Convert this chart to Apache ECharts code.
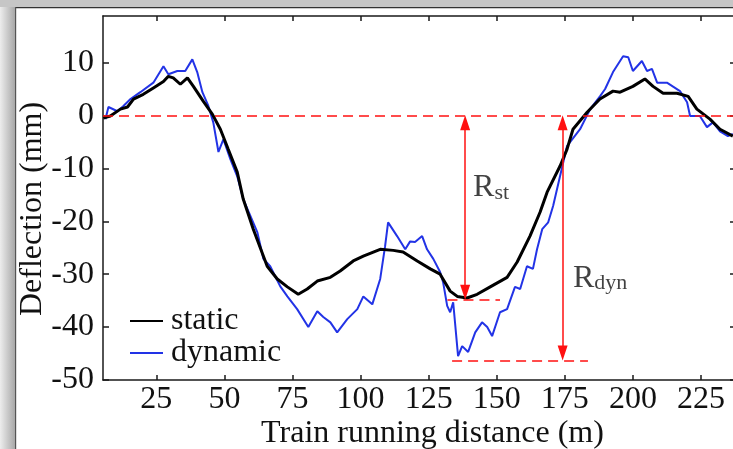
<!DOCTYPE html>
<html>
<head>
<meta charset="utf-8">
<script src="https://cdn.jsdelivr.net/npm/echarts@6/dist/echarts.min.js"></script>
<style>
html, body { margin: 0; padding: 0; background: #fff; }
#chart { width: 733px; height: 449px; }
</style>
</head>
<body>
<div id="chart"></div>
<script>
// axis ticks
var xTicks = [25, 50, 75, 100, 125, 150, 175, 200, 225];
var yTicks = [-50, -40, -30, -20, -10, 0, 10];

// static deflection [distance m, deflection mm]
var staticPts = [
    [5.5, -0.5], [8.1, -0.1], [11.8, 1.2], [14.4, 1.6], [16.6, 3.1], [20.2, 4.0], [23.9, 5.2],
    [27.6, 6.4], [29.4, 7.4], [31.2, 7.1], [33.8, 5.9], [36.4, 7.1], [38.6, 5.5], [42.2, 2.7],
    [45.6, 0.2], [48.5, -2.6], [51.4, -6.4], [54.7, -10.7], [56.9, -15.8], [60.6, -21.5],
    [65.7, -28.5], [69.4, -30.9], [73.1, -32.4], [77.1, -33.8], [80.4, -32.8], [84.1, -31.3],
    [88.9, -30.6], [92.5, -29.4], [97.3, -27.5], [101.0, -26.6], [107.2, -25.3], [112.0, -25.5],
    [115.6, -25.8], [120.8, -27.5], [125.6, -29.0], [129.2, -30.0], [132.9, -33.2], [135.5, -34.2],
    [139.1, -34.5], [142.8, -33.8], [147.6, -32.4], [153.8, -30.6], [157.5, -27.7], [162.2, -22.8],
    [165.9, -18.3], [168.5, -14.5], [173.3, -9.5], [175.8, -6.4], [178.0, -2.6], [183.2, 0.6],
    [187.9, 3.1], [192.7, 4.6], [195.3, 4.4], [200.0, 5.5], [204.4, 6.9], [207.4, 5.5],
    [211.1, 4.2], [216.2, 4.2], [220.3, 3.6], [223.5, 1.2], [228.3, -0.7], [232.0, -2.6], [236.7, -3.9]
];

// dynamic deflection
var dynamicPts = [
    [6.3, -0.7], [7.4, 1.6], [10.7, 0.8], [12.9, 1.8], [15.5, 3.1], [19.1, 4.4], [23.9, 6.2],
    [27.6, 9.3], [29.4, 7.8], [32.7, 8.4], [35.6, 8.4], [38.2, 10.6], [40.0, 8.2], [41.9, 4.4],
    [44.1, 1.8], [45.9, -1.3], [47.8, -6.9], [49.6, -4.5], [52.2, -8.3], [54.7, -11.5],
    [56.9, -15.8], [62.1, -22.1], [64.3, -27.1], [66.8, -28.5], [70.5, -32.3], [73.1, -34.2],
    [76.7, -36.6], [80.8, -40.0], [84.1, -37.0], [86.3, -38.1], [88.9, -39.1], [91.4, -41.0],
    [95.1, -38.5], [98.8, -36.6], [101.0, -34.2], [104.3, -35.7], [107.2, -30.9], [109.0, -24.7],
    [110.1, -20.2], [113.4, -22.8], [116.4, -25.3], [118.2, -23.8], [120.0, -23.9], [122.6, -22.8],
    [124.4, -25.3], [126.7, -27.1], [129.2, -29.6], [130.3, -31.5], [131.8, -36.0], [132.9, -37.2],
    [134.0, -35.3], [135.8, -45.5], [137.3, -43.6], [139.5, -44.7], [142.1, -41.0], [144.6, -39.1],
    [146.5, -40.0], [148.3, -41.7], [151.2, -37.2], [153.8, -36.6], [156.7, -32.4], [158.6, -32.8],
    [161.1, -28.5], [163.3, -29.0], [164.8, -25.3], [166.7, -21.5], [168.9, -20.2], [170.7, -17.1],
    [175.8, -5.8], [180.6, -2.6], [184.3, 1.2], [187.9, 3.6], [189.8, 5.0], [192.7, 8.2],
    [196.4, 11.2], [198.3, 11.0], [200.0, 8.4], [203.3, 10.3], [205.2, 8.4], [207.0, 8.8],
    [208.9, 6.2], [212.5, 6.2], [217.3, 4.6], [219.9, 2.5], [221.0, -0.1], [224.6, -0.1],
    [227.2, -2.2], [229.4, -1.3], [232.0, -3.0], [234.9, -3.9], [236.7, -3.5]
];

// reference lines and range arrows (arrow ends sit half an arrowhead inside the range)
var zeroLine = [[5.4, 0], [237.5, 0]];
var stMinLine = [[131.9, -34.8], [151.2, -34.8]];
var dynMinLine = [[133.6, -46.3], [183.5, -46.3]];
var stArrow = [[138.4, -33.4], [138.4, -1.4]];
var dynArrow = [[174.2, -44.9], [174.2, -1.4]];
var rLabels = [[141.3, -13.7, 'st'], [178.0, -30.8, 'dyn']];

var serif = '"Liberation Serif", "Times New Roman", serif';
var axisColor = '#1a1a1a';

function seg(p) {
    return [{ coord: p[0] }, { coord: p[1] }];
}

var chart = echarts.init(document.getElementById('chart'));
var option = {
    animation: false,
    backgroundColor: '#fff',
    graphic: [
        {
            type: 'rect', left: 0, top: 0, z: -10,
            shape: { width: 15, height: 449 },
            style: {
                fill: new echarts.graphic.LinearGradient(0, 0, 1, 0, [
                    { offset: 0, color: '#ededed' }, { offset: 1, color: '#a8a8a8' }
                ])
            }
        },
        { type: 'rect', left: 0, top: 0, z: -10, shape: { width: 733, height: 7 }, style: { fill: '#c6c6c6' } },
        { type: 'rect', left: 15, top: 7, z: -9, shape: { width: 718, height: 1.2 }, style: { fill: '#333' } },
        { type: 'rect', left: 15, top: 7, z: -9, shape: { width: 1.2, height: 442 }, style: { fill: '#555' } }
    ],
    grid: { left: 103, right: -2, top: 16, bottom: 69, containLabel: false, outerBoundsMode: 'none' },
    legend: {
        left: 125, top: 300, orient: 'vertical',
        itemWidth: 33, itemHeight: 2, itemGap: 0,
        icon: 'rect',
        data: ['static', 'dynamic'],
        textStyle: { fontFamily: serif, fontSize: 32, color: '#111', lineHeight: 31, padding: [0, 0, 0, 3] }
    },
    xAxis: [{
        type: 'value', min: 5.4, max: 237.5,
        name: 'Train running distance (m)', nameLocation: 'middle', nameGap: 38, nameMoveOverlap: false,
        nameTextStyle: { fontFamily: serif, fontSize: 32, color: '#111', padding: [0, 0, 0, 27] },
        axisLine: { onZero: false, lineStyle: { color: axisColor, width: 1.5 } },
        axisTick: { inside: true, length: 5, customValues: xTicks, lineStyle: { color: axisColor, width: 1.5 } },
        axisLabel: { customValues: xTicks, fontFamily: serif, fontSize: 32, color: '#111', margin: 4 },
        splitLine: { show: false }
    }, {
        type: 'value', min: 5.4, max: 237.5, position: 'top',
        axisLine: { onZero: false, lineStyle: { color: axisColor, width: 1.5 } },
        axisTick: { inside: true, length: 5, customValues: xTicks, lineStyle: { color: axisColor, width: 1.5 } },
        axisLabel: { show: false },
        splitLine: { show: false }
    }],
    yAxis: [{
        type: 'value', min: -50, max: 18.8,
        name: 'Deflection (mm)', nameLocation: 'middle', nameGap: 54, nameMoveOverlap: false,
        nameTextStyle: { fontFamily: serif, fontSize: 32, color: '#111', padding: [0, 22, 0, 0] },
        axisLine: { onZero: false, lineStyle: { color: axisColor, width: 1.5 } },
        axisTick: { inside: true, length: 6, customValues: yTicks, lineStyle: { color: axisColor, width: 1.5 } },
        axisLabel: { customValues: yTicks, fontFamily: serif, fontSize: 32, color: '#111', margin: 9 },
        splitLine: { show: false }
    }, {
        type: 'value', min: -50, max: 18.8, position: 'right',
        axisLine: { onZero: false, lineStyle: { color: axisColor, width: 1.5 } },
        axisTick: { inside: true, length: 5, customValues: yTicks, lineStyle: { color: axisColor, width: 1.5 } },
        axisLabel: { show: false },
        splitLine: { show: false }
    }],
    series: [{
        name: 'dynamic',
        type: 'line',
        data: dynamicPts,
        showSymbol: false,
        symbol: 'none',
        color: '#2233e6',
        lineStyle: { color: '#2233e6', width: 2 },
        z: 2,
        markLine: {
            silent: true,
            animation: false,
            label: { show: false },
            symbol: ['triangle', 'triangle'],
            symbolSize: [10, 15],
            lineStyle: { color: '#ff1010', width: 1.5, type: 'solid' },
            data: [seg(stArrow), seg(dynArrow)]
        }
    }, {
        name: 'static',
        type: 'line',
        data: staticPts,
        showSymbol: false,
        symbol: 'none',
        color: '#000',
        lineStyle: { color: '#000', width: 3 },
        z: 3,
        markLine: {
            silent: true,
            animation: false,
            label: { show: false },
            symbol: ['none', 'none'],
            lineStyle: { color: '#ff1010', width: 1.5, type: [10, 6] },
            data: [seg(zeroLine), seg(stMinLine), seg(dynMinLine)]
        }
    }, {
        name: 'labels',
        type: 'scatter',
        symbolSize: 0,
        silent: true,
        data: rLabels.map(function(r) { return [r[0], r[1], r[2]]; }),
        label: {
            show: true,
            position: 'right',
            distance: 0,
            formatter: function(p) { return '{r|R}{s|' + p.data[2] + '}'; },
            rich: {
                r: { fontFamily: serif, fontSize: 32, color: '#111', lineHeight: 32, verticalAlign: 'bottom' },
                s: { fontFamily: serif, fontSize: 22, color: '#111', lineHeight: 16, verticalAlign: 'bottom' }
            }
        },
        z: 4
    }]
};
chart.setOption(option);
</script>
</body>
</html>
